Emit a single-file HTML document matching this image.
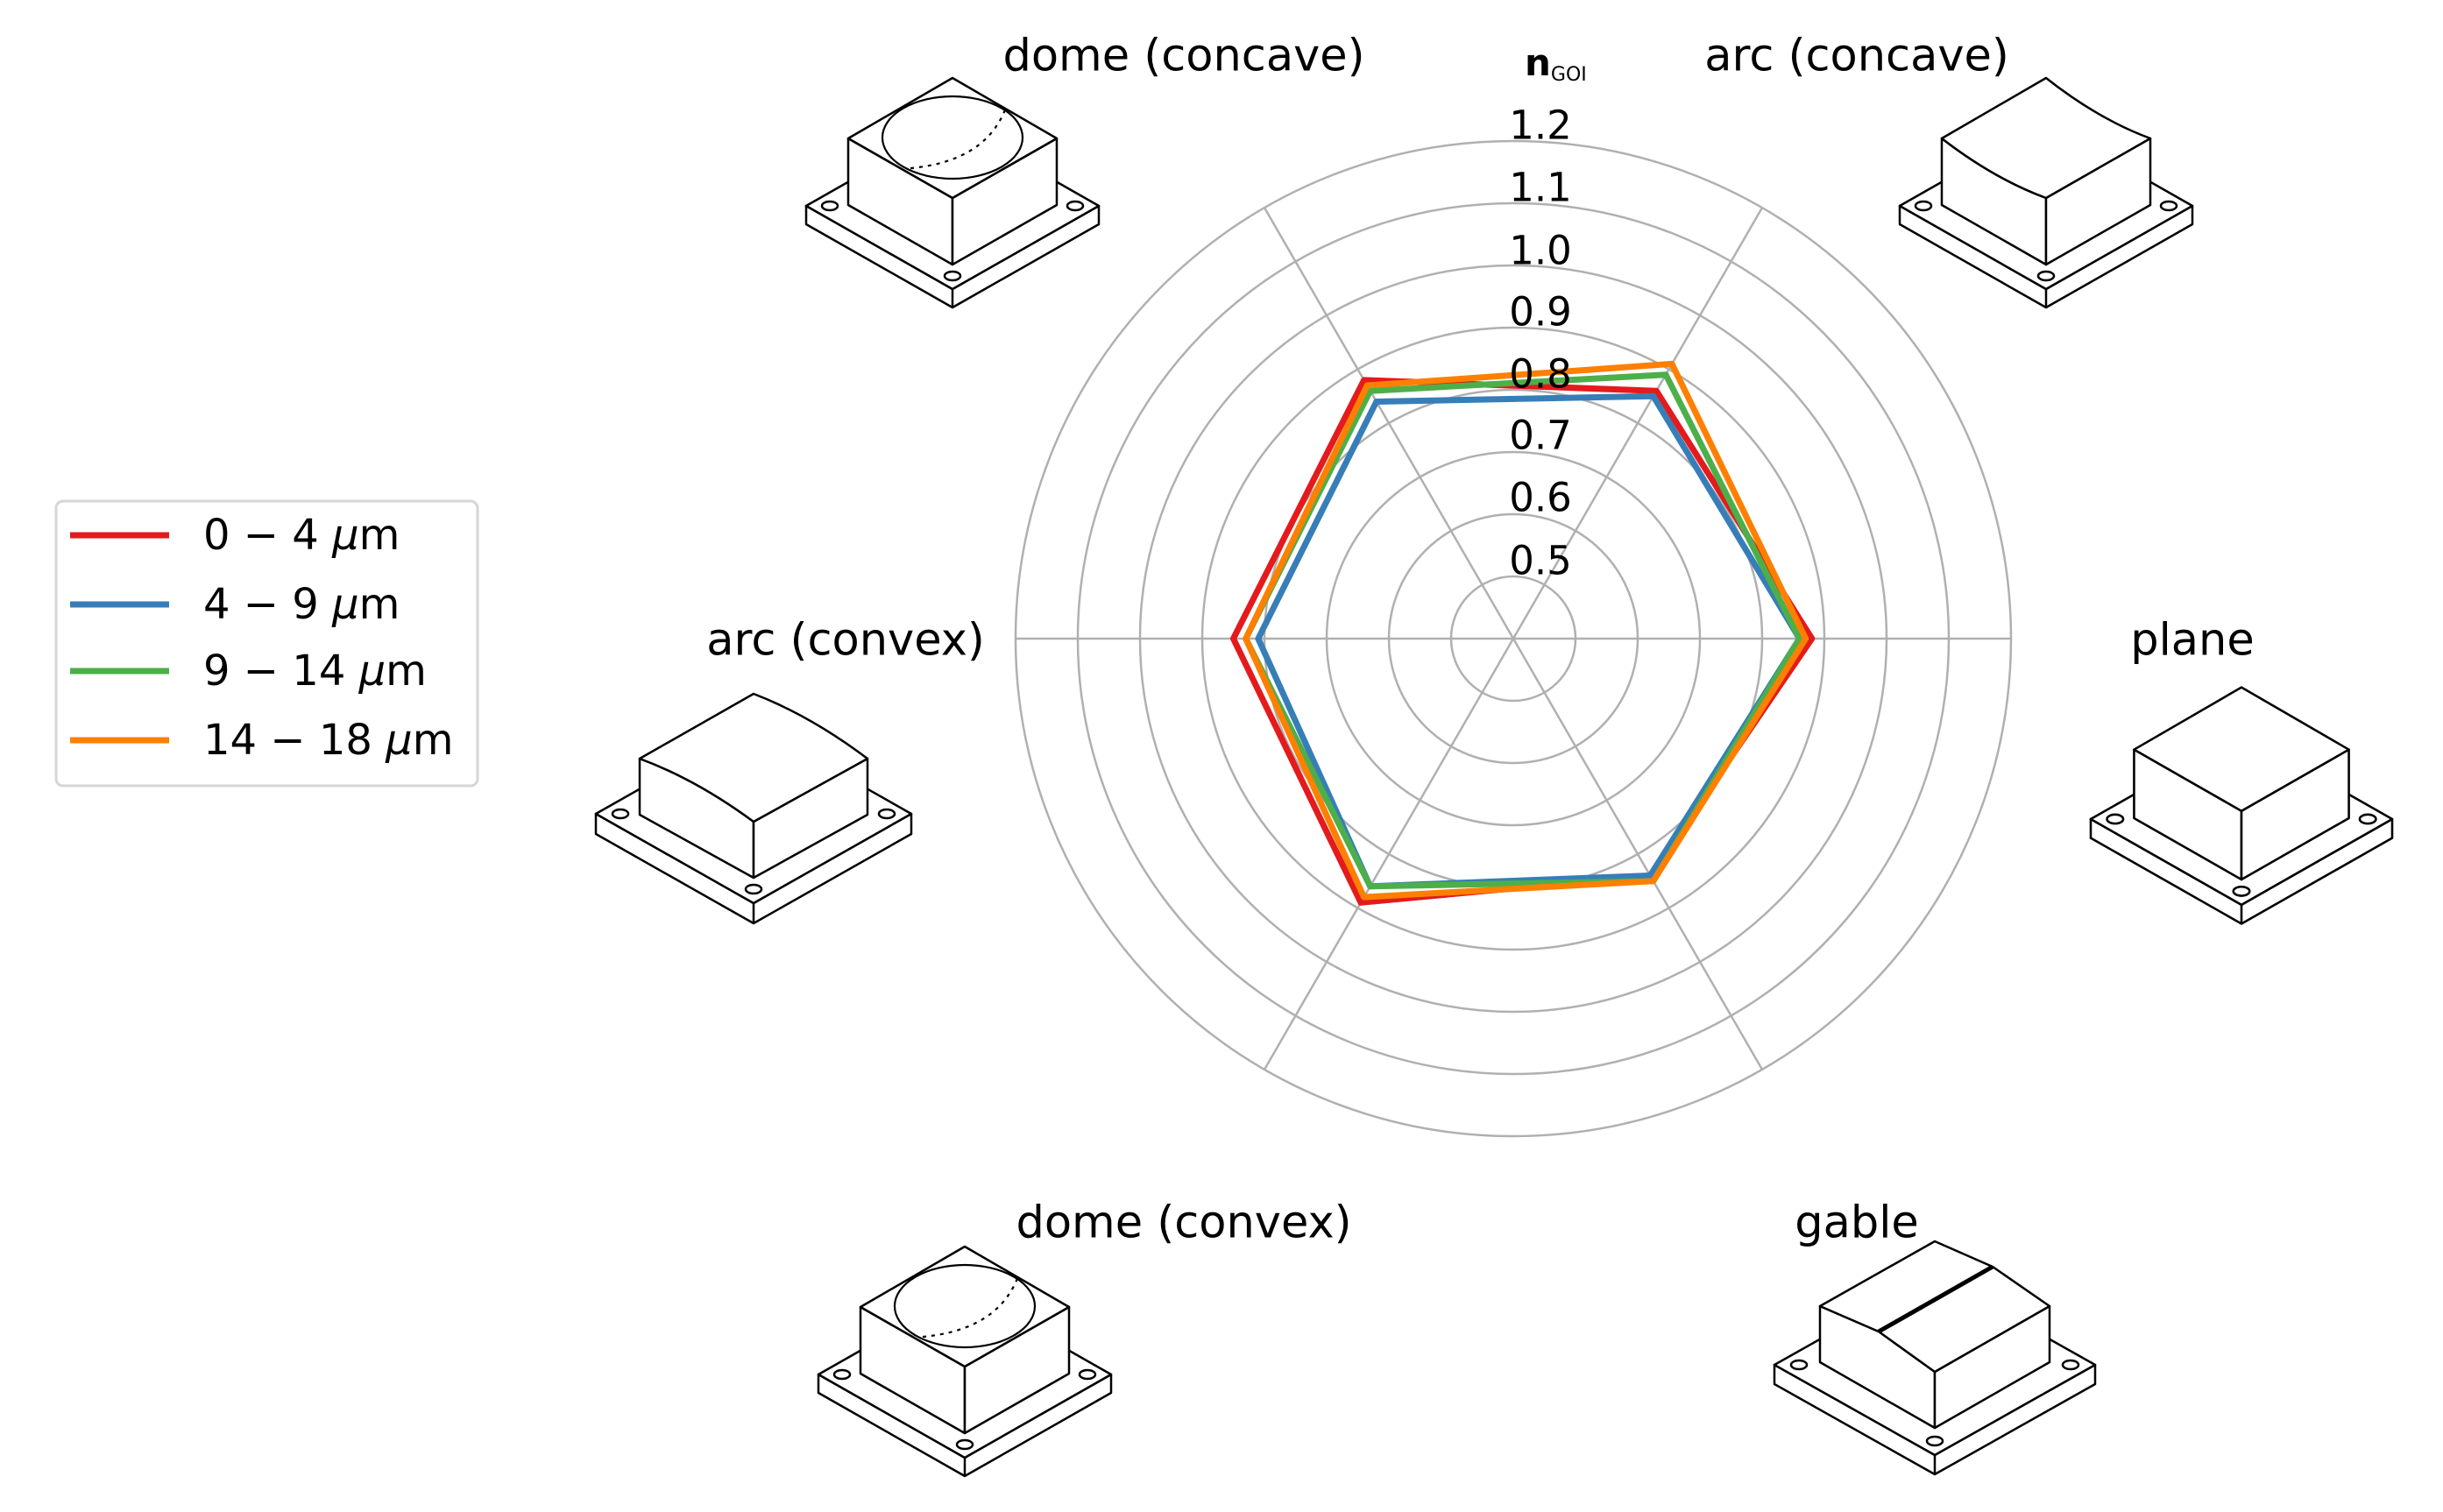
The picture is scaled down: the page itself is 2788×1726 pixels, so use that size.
<!DOCTYPE html>
<html><head><meta charset="utf-8"><style>
html,body{margin:0;padding:0;background:#fff}
svg{display:block}
text{font-family:"DejaVu Sans","Liberation Sans",sans-serif;fill:#000}
</style></head><body>
<svg width="2788" height="1726" viewBox="0 0 2788 1726" xmlns="http://www.w3.org/2000/svg">
<defs>
<g id="base" fill="#fff" stroke="#000" stroke-width="2.5" stroke-linejoin="round">
<path d="M-167,-67 L-167,-46 L0,49 L167,-46 L167,-67 L0,28 Z"/>
<path d="M0,28 L0,49"/>
<path d="M-167,-67 L0,-162 L167,-67 L0,28 Z"/>
<ellipse cx="-140" cy="-67" rx="9" ry="5"/>
<ellipse cx="140" cy="-67" rx="9" ry="5"/>
<ellipse cx="0" cy="13" rx="9" ry="5"/>
</g>
<g id="box" fill="#fff" stroke="#000" stroke-width="2.5" stroke-linejoin="round">
<path d="M-119,-144 L-119,-68 L0,0 L0,-76 Z"/>
<path d="M0,-76 L0,0 L119,-68 L119,-144 Z"/>
<path d="M0,-213 L-119,-144 L0,-76 L119,-144 Z"/>
</g>
<g id="base2" fill="#fff" stroke="#000" stroke-width="2.5" stroke-linejoin="round">
<path d="M-180,-73 L-180,-50 L0,52 L180,-50 L180,-73 L0,29 Z"/>
<path d="M0,29 L0,52"/>
<path d="M-180,-73 L0,-175 L180,-73 L0,29 Z"/>
<ellipse cx="-152" cy="-73" rx="9" ry="5"/>
<ellipse cx="152" cy="-73" rx="9" ry="5"/>
<ellipse cx="0" cy="13" rx="9" ry="5"/>
</g>
</defs>

<!-- polar grid -->
<g fill="none" stroke="#b0b0b0" stroke-width="2.5">
<circle cx="1727" cy="729" r="71"/>
<circle cx="1727" cy="729" r="142"/>
<circle cx="1727" cy="729" r="213"/>
<circle cx="1727" cy="729" r="284"/>
<circle cx="1727" cy="729" r="355"/>
<circle cx="1727" cy="729" r="426"/>
<circle cx="1727" cy="729" r="497"/>
<circle cx="1727" cy="729" r="568"/>
<line x1="1159" y1="729" x2="2295" y2="729"/>
<line x1="1443" y1="237.1" x2="2011" y2="1220.9"/>
<line x1="2011" y1="237.1" x2="1443" y2="1220.9"/>
</g>

<!-- data -->
<g fill="none" stroke-width="7" stroke-linejoin="round">
<polygon stroke="#e41a1c" points="2067.8,729 1890.3,446.2 1556.6,433.9 1407.5,729 1553,1030.3 1883.2,999.5"/>
<polygon stroke="#377eb8" points="2053.6,729 1886.8,452.3 1570.8,458.5 1435.9,729 1563.7,1011.8 1883.2,999.5"/>
<polygon stroke="#4daf4a" points="2053.6,729 1901,427.7 1563.7,446.2 1421.7,729 1563.7,1011.8 1886.8,1005.7"/>
<polygon stroke="#ff7f00" points="2060.7,729 1908,415.4 1560.2,440 1421.7,729 1556.6,1024.1 1886.8,1005.7"/>
</g>

<!-- tick labels -->
<g font-size="45" text-anchor="middle" dominant-baseline="central">
<text x="1758" y="143">1.2</text>
<text x="1758" y="214">1.1</text>
<text x="1758" y="286">1.0</text>
<text x="1758" y="356">0.9</text>
<text x="1758" y="427">0.8</text>
<text x="1758" y="497">0.7</text>
<text x="1758" y="568">0.6</text>
<text x="1758" y="640">0.5</text>
</g>
<text x="1740" y="86" font-size="42" font-weight="bold">n<tspan font-size="22" font-weight="normal" dy="6">GOI</tspan></text>

<!-- category labels -->
<g font-size="51" text-anchor="middle" dominant-baseline="central">
<text x="1351" y="64">dome (concave)</text>
<text x="2119" y="64">arc (concave)</text>
<text x="2502" y="731">plane</text>
<text x="965" y="731">arc (convex)</text>
<text x="1351" y="1396">dome (convex)</text>
<text x="2119" y="1396">gable</text>
</g>

<!-- icons -->
<g transform="translate(1087,302)">
<use href="#base"/><use href="#box"/>
<g fill="none" stroke="#000" stroke-width="2.2">
<ellipse cx="0" cy="-145" rx="80" ry="47"/>
<path d="M-48,-110 Q40,-118 62,-182" stroke-dasharray="4,6"/>
</g>
</g>
<g transform="translate(1101,1636)">
<use href="#base"/><use href="#box"/>
<g fill="none" stroke="#000" stroke-width="2.2">
<ellipse cx="0" cy="-145" rx="80" ry="47"/>
<path d="M-48,-110 Q40,-118 62,-182" stroke-dasharray="4,6"/>
</g>
</g>
<!-- arc concave -->
<g transform="translate(2335,302)">
<use href="#base"/>
<g fill="#fff" stroke="#000" stroke-width="2.5" stroke-linejoin="round">
<path d="M-119,-144 L-119,-68 L0,0 L0,-76 Q-59.5,-98 -119,-144 Z"/>
<path d="M0,-76 L0,0 L119,-68 L119,-144 Z"/>
<path d="M0,-213 L-119,-144 Q-59.5,-98 0,-76 L119,-144 Q59.5,-166 0,-213 Z"/>
</g>
</g>
<!-- arc convex -->
<g transform="translate(860,1002)">
<use href="#base2"/>
<g fill="#fff" stroke="#000" stroke-width="2.5" stroke-linejoin="round">
<path d="M-130,-136 L-130,-72 L0,0 L0,-64 Q-65,-112 -130,-136 Z"/>
<path d="M0,-64 L0,0 L130,-72 L130,-136 Z"/>
<path d="M0,-210 L-130,-136 Q-65,-112 0,-64 L130,-136 Q65,-185 0,-210 Z"/>
</g>
</g>
<!-- plane -->
<g transform="translate(2558,1004) scale(1.03)">
<use href="#base"/><use href="#box"/>
</g>
<!-- gable -->
<g transform="translate(2208,1630)">
<g fill="#fff" stroke="#000" stroke-width="2.5" stroke-linejoin="round">
<path d="M-183,-72 L-183,-50 L0,53 L183,-50 L183,-72 L0,31 Z"/>
<path d="M0,31 L0,53"/>
<path d="M-183,-72 L0,-175 L183,-72 L0,31 Z"/>
<ellipse cx="-155" cy="-72" rx="9" ry="5"/>
<ellipse cx="155" cy="-72" rx="9" ry="5"/>
<ellipse cx="0" cy="15" rx="9" ry="5"/>
<path d="M-131,-139 L-131,-75 L0,0 L0,-64 L-64,-110 Z"/>
<path d="M0,-64 L0,0 L131,-75 L131,-139 Z"/>
<path d="M-131,-139 L0,-213 L66,-184 L131,-139 L0,-64 L-64,-110 Z"/>
</g>
<path d="M-64,-110 L66,-184" stroke="#000" stroke-width="5"/>
</g>

<!-- legend -->
<rect x="64" y="572" width="481" height="325" rx="8" fill="#fff" stroke="#d6d6d6" stroke-width="3"/>
<g stroke-width="7">
<line x1="80" y1="611" x2="193" y2="611" stroke="#e41a1c"/>
<line x1="80" y1="690" x2="193" y2="690" stroke="#377eb8"/>
<line x1="80" y1="766" x2="193" y2="766" stroke="#4daf4a"/>
<line x1="80" y1="845" x2="193" y2="845" stroke="#ff7f00"/>
</g>
<g font-size="48" dominant-baseline="central">
<text x="232" y="611">0 − 4 <tspan font-style="italic">μ</tspan>m</text>
<text x="232" y="690">4 − 9 <tspan font-style="italic">μ</tspan>m</text>
<text x="232" y="766">9 − 14 <tspan font-style="italic">μ</tspan>m</text>
<text x="232" y="845">14 − 18 <tspan font-style="italic">μ</tspan>m</text>
</g>
</svg>
</body></html>
